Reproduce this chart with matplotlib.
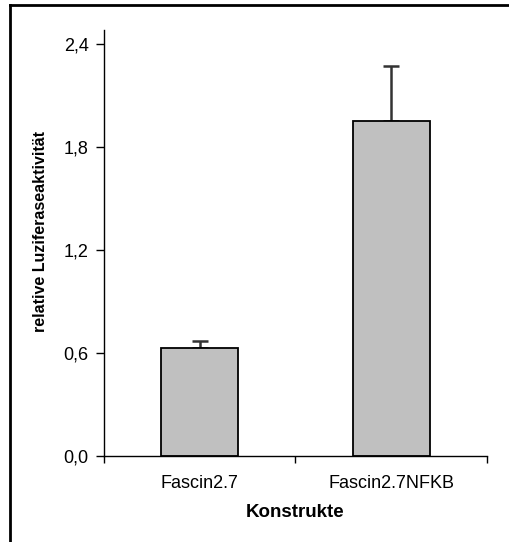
import numpy as np
import matplotlib.pyplot as plt
from matplotlib.lines import Line2D
from matplotlib.ticker import FixedLocator, FuncFormatter

plt.rcParams['font.family'] = ['Liberation Sans', 'DejaVu Sans']

konstrukte = ['Fascin2.7', 'Fascin2.7NFKB']
aktivitaet = [0.63, 1.95]
fehler = [0.04, 0.32]
y_ticks = [0.0, 0.6, 1.2, 1.8, 2.4]

fig = plt.figure(figsize=(5.09, 5.42), dpi=100)
ax = fig.add_axes([0.2043, 0.1587, 0.7525, 0.7860])

x = np.arange(len(konstrukte))
ax.bar(x, aktivitaet, width=0.40, color='#c0c0c0', edgecolor='black',
       linewidth=1.3, zorder=2)
ax.errorbar(x, aktivitaet, yerr=[np.zeros(len(fehler)), fehler], fmt='none',
            ecolor='#333333', elinewidth=1.8, capsize=6, capthick=1.8, zorder=1)

ax.set_xlim(-0.5, len(konstrukte) - 0.5)
ax.set_ylim(0, 2.48)
ax.yaxis.set_major_locator(FixedLocator(y_ticks))
ax.yaxis.set_major_formatter(FuncFormatter(lambda v, p: f'{v:.1f}'.replace('.', ',')))
ax.set_xticks(x)
ax.set_xticklabels(konstrukte)
# category boundaries carry the tick marks
ax.set_xticks(np.arange(len(konstrukte) + 1) - 0.5, minor=True)
ax.tick_params(axis='x', which='major', length=0, labelsize=13, pad=14)
ax.tick_params(axis='x', which='minor', length=5, width=1, direction='out')
ax.tick_params(axis='y', length=6, width=1, labelsize=13, pad=5)

for s in ['top', 'right']:
    ax.spines[s].set_visible(False)
for s in ['left', 'bottom']:
    ax.spines[s].set_linewidth(1)

ax.set_xlabel('Konstrukte', fontsize=13.5, fontweight='bold', labelpad=8)
ax.set_ylabel('relative Luziferaseaktivität', fontsize=11.5, fontweight='bold')
ax.yaxis.set_label_coords(-0.145, 0.528)

# outer frame of the chart area
fig.add_artist(Line2D([10 / 509, 10 / 509], [0, 1 - 5 / 542], color='black',
                      linewidth=2, transform=fig.transFigure))
fig.add_artist(Line2D([10 / 509, 1], [1 - 5 / 542, 1 - 5 / 542], color='black',
                      linewidth=2, transform=fig.transFigure))

fig.savefig('out.png', dpi=100)
